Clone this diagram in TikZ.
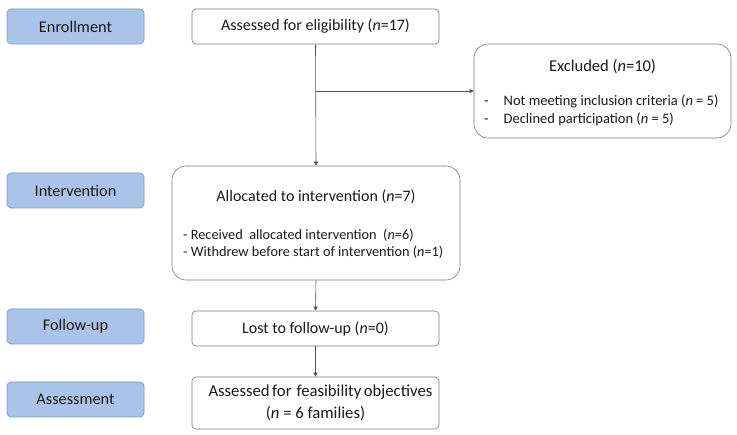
\documentclass[tikz,border=0pt]{standalone}
\usepackage{fontspec}
\setmainfont{Carlito}
\usetikzlibrary{arrows.meta}
\definecolor{stagefill}{HTML}{A9C4E8}
\definecolor{stagedraw}{HTML}{7F97B5}
\definecolor{boxdraw}{HTML}{7A7A7A}
\definecolor{linecol}{HTML}{46566A}
\definecolor{txt}{HTML}{1A1A1A}
\tikzset{
  stage/.style={draw=stagedraw, fill=stagefill, rounded corners=4pt, line width=0.6pt,
    minimum width=137pt, minimum height=35pt, inner sep=0pt, text=txt, font=\fontsize{16.3}{19}\selectfont},
  flowbox/.style={draw=boxdraw, fill=white, rounded corners=4pt, line width=0.6pt,
    inner sep=0pt, text=txt, font=\fontsize{16}{21}\selectfont, align=center},
  bigbox/.style={draw=boxdraw, fill=white, rounded corners=14pt, line width=0.6pt,
    inner sep=0pt, text=txt},
  lbl/.style={text=txt, inner sep=0pt},
  conn/.style={draw=linecol, line width=0.6pt},
  arr/.style={conn, -{Triangle[length=4pt,width=4pt]}}
}
\begin{document}
\begin{tikzpicture}[x=1pt,y=-1pt]
\useasboundingbox (0,0) rectangle (737,435);
% stage labels
\node[stage] (enr) at (75.5,26.5) {Enrollment};
\node[stage] (int) at (75.5,190.5) {Intervention};
\node[stage] (fol) at (75.5,326.5) {Follow-up};
\node[stage] (ass) at (75.5,399.5) {Assessment};
% flow boxes
\node[flowbox, minimum width=247pt, minimum height=35pt] (elig) at (315.5,26.5) {Assessed for eligibility (\textit{n}=17)};
\node[bigbox, minimum width=257pt, minimum height=94pt] (excl) at (602.5,91) {};
\node[lbl, font=\fontsize{16.5}{19}\selectfont] (exclt) at (602.5,67) {Excluded (\textit{n}=10)};
\node[lbl, font=\fontsize{14.5}{18}\selectfont, anchor=west] (excl1) at (484,101.5) {-\hspace{15pt}Not meeting inclusion criteria (\textit{n} = 5)};
\node[lbl, font=\fontsize{14.5}{18}\selectfont, anchor=west] (excl2) at (484,119) {-\hspace{15pt}Declined participation (\textit{n} = 5)};
\node[bigbox, minimum width=288pt, minimum height=114pt] (alloc) at (316,223) {};
\node[lbl, font=\fontsize{16}{19}\selectfont] (alloct) at (316,197) {Allocated to intervention (\textit{n}=7)};
\node[lbl, font=\fontsize{14.3}{18}\selectfont, anchor=west] (alloc1) at (183,235) {- Received \ allocated intervention \ (\textit{n}=6)};
\node[lbl, font=\fontsize{14.3}{18}\selectfont, anchor=west] (alloc2) at (183,252.5) {- Withdrew before start of intervention (\textit{n}=1)};
\node[flowbox, minimum width=247pt, minimum height=35pt] (lost) at (315.5,328.5) {Lost to follow-up (\textit{n}=0)};
\node[flowbox, minimum width=247pt, minimum height=52pt, font=\fontsize{16.7}{22}\selectfont] (feas) at (315.5,403) {\makebox[214pt][s]{Assessed for \ feasibility objectives}\\(\textit{n} = 6 families)};
% connectors
\coordinate (br) at (315.5,91);
\draw[arr] (elig.south) -- (alloc.north);
\draw[arr] (br) -- (excl.west |- br);
\draw[arr] (alloc.south) -- (lost.north);
\draw[arr] (lost.south) -- (feas.north);
\end{tikzpicture}
\end{document}
